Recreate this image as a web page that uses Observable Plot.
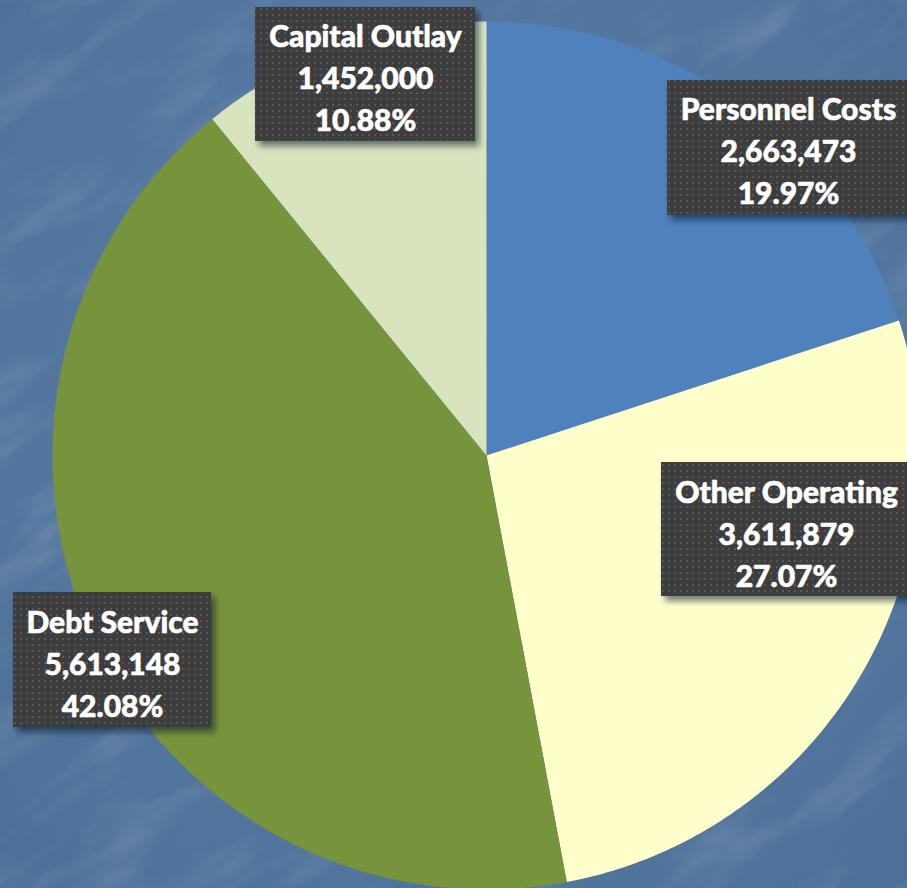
<!DOCTYPE html>
<html><head><meta charset="utf-8">
<script src="https://cdn.jsdelivr.net/npm/d3@7"></script>
<script src="https://cdn.jsdelivr.net/npm/@observablehq/plot@0.6"></script>
<style>
html,body{margin:0;padding:0;width:907px;height:888px;overflow:hidden;background:#577ba3;}
#bg{position:absolute;left:0;top:0;}
#chart{position:absolute;left:0;top:0;width:907px;height:888px;}
</style></head><body>
<svg id="bg" width="907" height="888">
  <defs>
    <filter id="noiseLight" x="0" y="0" width="100%" height="100%">
      <feTurbulence type="fractalNoise" baseFrequency="0.008 0.025" numOctaves="4" seed="7"/>
      <feColorMatrix type="matrix" values="0 0 0 0 1  0 0 0 0 1  0 0 0 0 1  2.0 0 0 0 -0.95"/>
    </filter>
    <filter id="noiseDark" x="0" y="0" width="100%" height="100%">
      <feTurbulence type="fractalNoise" baseFrequency="0.012 0.03" numOctaves="3" seed="21"/>
      <feColorMatrix type="matrix" values="0 0 0 0 0.1  0 0 0 0 0.2  0 0 0 0 0.35  -2.0 0 0 0 1.1"/>
    </filter>
    <filter id="blur" x="-20%" y="-20%" width="140%" height="140%">
      <feGaussianBlur stdDeviation="3"/>
    </filter>
    <pattern id="dots" width="6" height="6" patternUnits="userSpaceOnUse">
      <rect width="6" height="6" fill="#3d3d3d"/>
      <rect x="2" y="2" width="2" height="2" fill="#575757"/>
    </pattern>
    <radialGradient id="vig" cx="50%" cy="45%" r="75%">
      <stop offset="0" stop-color="#6488b0" stop-opacity="0.45"/>
      <stop offset="1" stop-color="#3e5f86" stop-opacity="0.45"/>
    </radialGradient>
  </defs>
  <rect width="907" height="888" fill="#587ca5"/>
  <rect width="907" height="888" fill="url(#vig)"/>
  <g transform="rotate(-35 453 444)">
    <rect x="-400" y="-400" width="1700" height="1700" filter="url(#noiseLight)" opacity="0.15"/>
    <rect x="-400" y="-400" width="1700" height="1700" filter="url(#noiseDark)" opacity="0.18"/>
  </g>
</svg>
<div id="chart"></div>
<script>
// ---- data ----
const categories = ["Personnel Costs", "Other Operating", "Debt Service", "Capital Outlay"];
const amounts = [2663473, 3611879, 5613148, 1452000];
const colors = ["#4F81BD", "#FFFFCC", "#77933C", "#D7E4BD"];

// ---- layout (pixels) ----
const CX = 486, CY = 455, R = 434;
// label box [x1, x2, y1, y2] and text centre [x, y]
const labelBoxes = [
  [667, 912, 80, 215],
  [661, 912, 462, 596],
  [13, 211, 592, 727],
  [255, 475, 7, 141]
];
const labelCenters = [
  [788, 148],
  [786, 531],
  [112, 661],
  [365, 75]
];

const total = d3.sum(amounts);
const fmtNum = d3.format(",");
const fmtPct = d3.format(".2%");

// pie geometry in unit coordinates (angle from 12 o'clock, clockwise)
const arcs = d3.pie().sort(null).value(d => d)(amounts);
const slicePts = [];
arcs.forEach((a, i) => {
  const cat = categories[i];
  slicePts.push({cat, x: 0, y: 0});
  const n = Math.max(2, Math.ceil((a.endAngle - a.startAngle) / (Math.PI / 360)));
  for (let k = 0; k <= n; k++) {
    const t = a.startAngle + (a.endAngle - a.startAngle) * k / n;
    slicePts.push({cat, x: Math.sin(t), y: Math.cos(t)});
  }
  slicePts.push({cat, x: 0, y: 0});
});

const ux = px => (px - CX) / R;
const uy = py => (CY - py) / R;

const labels = categories.map((c, i) => ({
  cat: c,
  text: `${c}\n${fmtNum(amounts[i])}\n${fmtPct(amounts[i] / total)}`,
  x: ux(labelCenters[i][0]),
  y: uy(labelCenters[i][1]),
  x1: ux(labelBoxes[i][0]), x2: ux(labelBoxes[i][1]),
  y1: uy(labelBoxes[i][2]), y2: uy(labelBoxes[i][3])
}));

const chart = Plot.plot({
  width: 907,
  height: 888,
  margin: 0,
  x: {domain: [-1, 1], range: [CX - R, CX + R], axis: null},
  y: {domain: [-1, 1], range: [CY + R, CY - R], axis: null},
  color: {domain: categories, range: colors},
  style: {background: "transparent", overflow: "hidden"},
  marks: [
    Plot.line(slicePts, {x: "x", y: "y", z: "cat", fill: "cat", stroke: "none", curve: "linear"}),
    Plot.rect(labels, {x1: "x1", x2: "x2", y1: "y1", y2: "y2", fill: "#0b1626", fillOpacity: 0.55, dx: 4, dy: 5}),
    Plot.rect(labels, {x1: "x1", x2: "x2", y1: "y1", y2: "y2", fill: "url(#dots)"}),
    Plot.text(labels, {
      x: "x", y: "y", text: "text",
      fill: "white", fontSize: 30, fontWeight: 900,
      fontFamily: "Lato, 'Open Sans', sans-serif",
      lineHeight: 1.4, textAnchor: "middle", lineAnchor: "middle",
      stroke: "white", strokeWidth: 0.6
    })
  ]
});
document.getElementById("chart").appendChild(chart);
const rectGroups = chart.querySelectorAll("g[aria-label='rect']");
if (rectGroups.length) rectGroups[0].setAttribute("filter", "url(#blur)");
</script>
</body></html>
